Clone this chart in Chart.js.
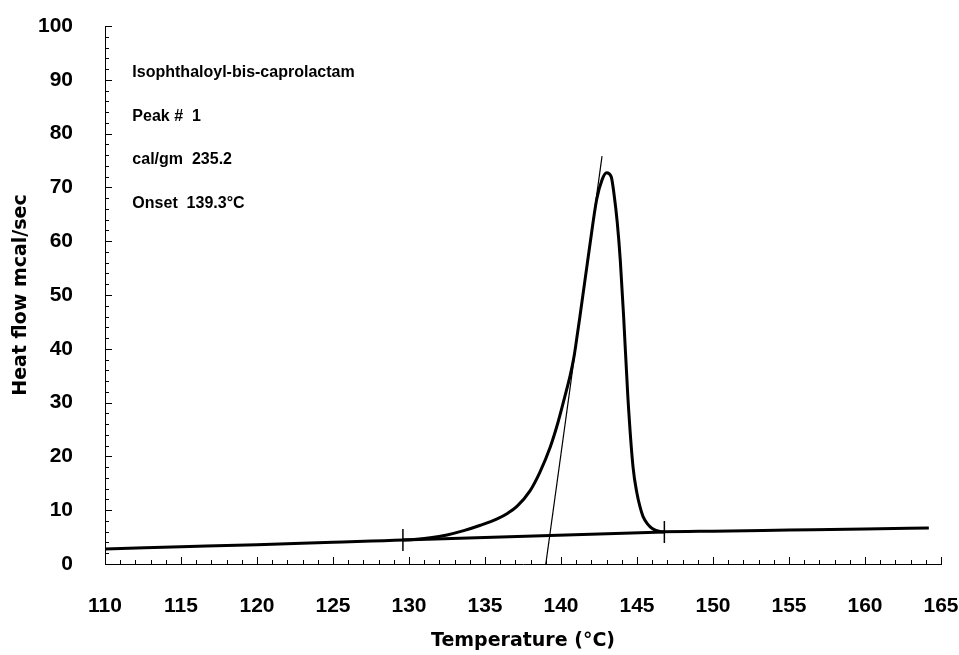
<!DOCTYPE html>
<html>
<head>
<meta charset="utf-8">
<script src="https://cdn.jsdelivr.net/npm/chart.js@4.4.0/dist/chart.umd.min.js"></script>
<style>
  body { margin: 0; background: #fff; }
  canvas { display: block; }
</style>
</head>
<body>
<canvas id="dscChart" width="959" height="655"></canvas>
<script>
// DSC trace: temperature (°C) vs heat flow (mcal/sec)
const temperature = [110, 115, 120, 125, 129.6, 130.5, 131.4, 132.5, 133.6, 134.7, 135.8, 136.5, 137.1, 137.96,
    138.6, 139.3, 139.8, 140.26, 140.6, 140.86, 141.05, 141.25, 141.9, 142.35, 142.7, 143.0, 143.3, 143.5, 143.7,
    143.9, 144.12, 144.4, 144.74, 145.0, 145.2, 145.4, 145.7, 146.0, 146.6, 150, 155, 160, 164.2];
const heatFlow = [2.8, 3.2, 3.6, 4.05, 4.45, 4.6, 4.86, 5.4, 6.2, 7.2, 8.4, 9.45, 10.7, 13.6,
    17.0, 21.8, 26.3, 31.2, 35.0, 38.6, 42.2, 46.1, 59.3, 67.8, 71.4, 72.7, 72.0, 68.5, 63.5,
    56.5, 46.0, 31.0, 18.0, 13.1, 10.6, 8.8, 7.4, 6.6, 6.0, 6.1, 6.3, 6.5, 6.7];

// integration baseline under the peak and its end markers
const baselineTemp = [129.6, 146.8];
const baselineFlow = [4.45, 5.95];

// extrapolated leading-edge tangent used for the onset
const tangentTemp = [139.0, 142.7];
const tangentFlow = [0, 75.8];

const xTicks = { min: 110, max: 165, step: 5, minor: 1 };
const yTicks = { min: 0, max: 100, step: 10, minor: 2 };

const notes = ['Isophthaloyl-bis-caprolactam', 'Peak #  1', 'cal/gm  235.2', 'Onset  139.3°C'];
const noteTemp = 111.8;
const noteFlow = [91.3, 83.1, 75.1, 66.9];

const toPoints = (xs, ys) => xs.map((x, i) => ({ x, y: ys[i] }));

// ticks pointing into the plot, plus the text block
const innerTicks = {
    id: 'innerTicks',
    afterDraw(chart) {
        const { ctx, chartArea, scales } = chart;
        ctx.save();
        ctx.strokeStyle = '#000';
        ctx.lineWidth = 1;
        ctx.beginPath();
        for (let v = xTicks.min; v <= xTicks.max + 1e-6; v += xTicks.minor) {
            const px = Math.round(scales.x.getPixelForValue(v)) + 0.5;
            const len = Math.abs(v % xTicks.step) < 1e-6 ? 7 : 4;
            ctx.moveTo(px, chartArea.bottom);
            ctx.lineTo(px, chartArea.bottom - len);
        }
        for (let v = yTicks.min; v <= yTicks.max + 1e-6; v += yTicks.minor) {
            const py = Math.round(scales.y.getPixelForValue(v)) + 0.5;
            const len = Math.abs(v % yTicks.step) < 1e-6 ? 7 : 4;
            ctx.moveTo(chartArea.left, py);
            ctx.lineTo(chartArea.left + len, py);
        }
        ctx.stroke();

        ctx.fillStyle = '#000';
        ctx.font = 'bold 16px "Liberation Sans", Arial, sans-serif';
        ctx.textBaseline = 'middle';
        notes.forEach((t, i) => {
            ctx.fillText(t, scales.x.getPixelForValue(noteTemp), scales.y.getPixelForValue(noteFlow[i]));
        });
        ctx.restore();
    }
};

const ctx = document.getElementById('dscChart').getContext('2d');
const tickFont = { family: '"Liberation Sans", Arial, sans-serif', size: 21, weight: 'bold' };
const titleFont = { family: '"DejaVu Sans", sans-serif', size: 19, weight: 'bold' };

new Chart(ctx, {
    type: 'line',
    data: {
        datasets: [
            {
                data: toPoints(temperature, heatFlow),
                borderColor: '#000',
                borderWidth: 3,
                pointRadius: 0,
                cubicInterpolationMode: 'monotone',
            },
            {
                data: toPoints(baselineTemp, baselineFlow),
                borderColor: '#000',
                borderWidth: 3,
                pointStyle: 'line',
                pointRotation: 90,
                pointRadius: 11,
                pointBorderWidth: 1.5,
                pointBorderColor: '#000',
            },
            {
                data: toPoints(tangentTemp, tangentFlow),
                borderColor: '#000',
                borderWidth: 1.2,
                pointRadius: 0,
            },
        ],
    },
    options: {
        responsive: false,
        animation: false,
        layout: { padding: { top: 26, right: 18, left: 0, bottom: 0 } },
        plugins: {
            legend: { display: false },
            tooltip: { enabled: false },
        },
        scales: {
            x: {
                type: 'linear',
                min: xTicks.min,
                max: xTicks.max,
                grid: { display: false },
                border: { display: true, color: '#000', width: 1 },
                ticks: { stepSize: xTicks.step, color: '#000', font: tickFont, padding: 22, maxRotation: 0 },
                title: { display: true, text: 'Temperature (°C)', color: '#000', font: titleFont, padding: { top: 0, bottom: 3 } },
                afterFit: (scale) => {
                    scale.height = 91;
                    scale.paddingLeft = 0;
                    scale.paddingRight = 0;
                },
            },
            y: {
                min: yTicks.min,
                max: yTicks.max,
                grid: { display: false },
                border: { display: true, color: '#000', width: 1 },
                ticks: { stepSize: yTicks.step, color: '#000', font: tickFont, padding: 24 },
                title: { display: true, text: 'Heat flow mcal/sec', color: '#000', font: titleFont, padding: { top: 10, bottom: 0 } },
                afterFit: (scale) => {
                    scale.width = 105;
                    scale.paddingTop = 0;
                    scale.paddingBottom = 0;
                },
            },
        },
    },
    plugins: [innerTicks],
});
</script>
</body>
</html>
